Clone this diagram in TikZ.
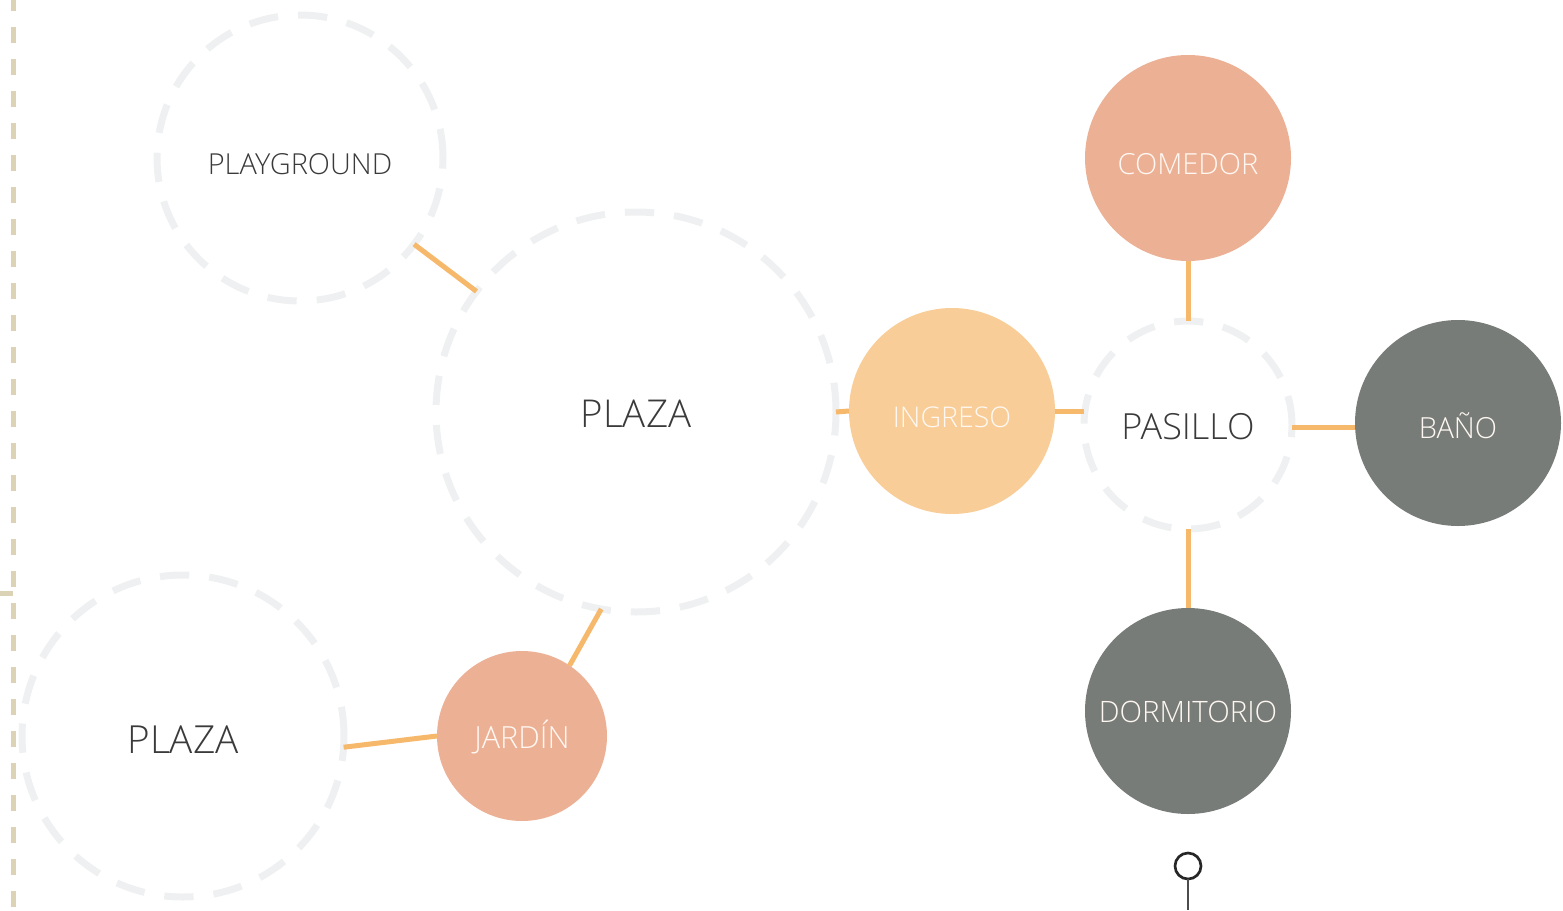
\documentclass[tikz,border=0pt]{standalone}
\usepackage{fontspec}
\setmainfont{Open Sans Light}
\definecolor{lineorange}{HTML}{F6B86B}
\definecolor{dashgray}{HTML}{EFF0F1}
\definecolor{tanline}{HTML}{DCD3B6}
\definecolor{salmon}{HTML}{ECB095}
\definecolor{peach}{HTML}{F8CD97}
\definecolor{slate}{HTML}{787C79}
\definecolor{darktext}{HTML}{3A3A3A}
\definecolor{softwhite}{HTML}{FFF8F2}
\tikzset{
  zone/.style={circle, draw=dashgray, line width=5.25pt, dash pattern=on 22pt off 15pt, inner sep=0pt, outer sep=0pt, text=darktext},
  room/.style={circle, draw=none, inner sep=0pt, outer sep=0pt, minimum size=154.5pt, text=softwhite},
  link/.style={draw=lineorange, line width=3.75pt},
  fs/.style={font=\fontsize{#1}{#1}\selectfont},
  th/.style={text height=#1, text depth=0pt},
}
\begin{document}
\begin{tikzpicture}[x=0.75pt,y=-0.75pt]
\useasboundingbox (0,0) rectangle (1563,910);
% left boundary
\coordinate (lt) at (13,0);
\coordinate (lb) at (13,910);
\coordinate (tk1) at (0,593);
\coordinate (tk2) at (13,593);
\draw[tanline, line width=3.75pt, dash pattern=on 12pt off 12pt, dash phase=3.75pt] (lt) -- (lb);
\draw[tanline, line width=3.75pt] (tk1) -- (tk2);
% zones
\node[zone, minimum size=214.5pt, fs=21.7pt, th=24.5pt] (play) at (300,158) {PLAYGROUND};
\node[zone, minimum size=300pt, fs=28.8pt, th=23.6pt] (plaza) at (636,412) {PLAZA};
\node[zone, minimum size=241.5pt, fs=29pt, th=26.7pt] (plazab) at (183,736) {PLAZA};
\node[zone, minimum size=156pt, fs=27pt, th=22.3pt] (pasillo) at (1188,425) {PASILLO};
% rooms
\node[room, fill=salmon, fs=21.8pt, th=24.5pt] (comedor) at (1188,158) {COMEDOR};
\node[room, fill=peach, fs=21.4pt, th=24.3pt] (ingreso) at (952,411) {INGRESO};
\node[room, fill=slate, fs=21.8pt, th=23.1pt] (bano) at (1458,423) {BAÑO};
\node[room, fill=slate, fs=22.1pt, th=17.3pt] (dorm) at (1188,711) {DORMITORIO};
\node[room, fill=salmon, minimum size=127.5pt, fs=22.9pt, th=19.4pt] (jardin) at (522,736) {JARDÍN};
% links
\draw[link] (play) -- (plaza);
\draw[link] (plaza.-100) -- (jardin.56);
\draw[link] (plazab.-4) -- (jardin.west);
\draw[link] (plaza.east) -- (ingreso.west);
\draw[link] (ingreso.east) -- (ingreso.east -| pasillo.west);
\draw[link] (comedor) -- (pasillo);
\draw[link] (pasillo.east |- 0,427) -- (bano.west |- 0,427);
\draw[link] (pasillo) -- (dorm);
% pin
\node[circle, draw=black!85, line width=2pt, minimum size=19.5pt, inner sep=0pt, outer sep=0pt] (pin) at (1188,866) {};
\coordinate (pinend) at (1188,910);
\draw[black!70, line width=1.2pt] (pin.south) -- (pinend);
\end{tikzpicture}
\end{document}
